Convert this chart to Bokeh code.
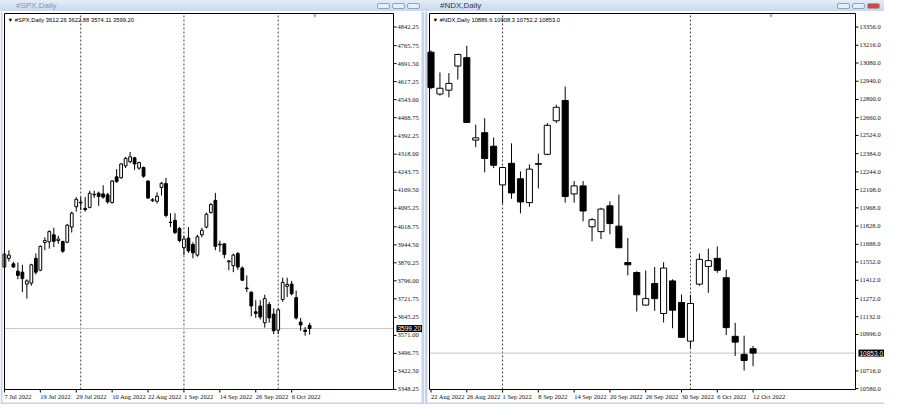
from bokeh.plotting import figure
from bokeh.layouts import row, column
from bokeh.models import (ColumnDataSource, Label, LabelSet, Div, Range1d, BoxAnnotation)
from bokeh.embed import file_html
from bokeh.resources import INLINE

# ---------------- data: #SPX daily ----------------
spx_dates = [
    "2022-07-07", "2022-07-08", "2022-07-11", "2022-07-12", "2022-07-13", "2022-07-14", "2022-07-15",
    "2022-07-18", "2022-07-19", "2022-07-20", "2022-07-21", "2022-07-22", "2022-07-25", "2022-07-26",
    "2022-07-27", "2022-07-28", "2022-07-29", "2022-08-01", "2022-08-02", "2022-08-03", "2022-08-04",
    "2022-08-05", "2022-08-08", "2022-08-09", "2022-08-10", "2022-08-11", "2022-08-12", "2022-08-15",
    "2022-08-16", "2022-08-17", "2022-08-18", "2022-08-19", "2022-08-22", "2022-08-23", "2022-08-24",
    "2022-08-25", "2022-08-26", "2022-08-29", "2022-08-30", "2022-08-31", "2022-09-01", "2022-09-02",
    "2022-09-06", "2022-09-07", "2022-09-08", "2022-09-09", "2022-09-12", "2022-09-13", "2022-09-14",
    "2022-09-15", "2022-09-16", "2022-09-19", "2022-09-20", "2022-09-21", "2022-09-22", "2022-09-23",
    "2022-09-26", "2022-09-27", "2022-09-28", "2022-09-29", "2022-09-30", "2022-10-03", "2022-10-04",
    "2022-10-05", "2022-10-06", "2022-10-07", "2022-10-10", "2022-10-11", "2022-10-12",
]
spx_open = [
    3852.9, 3888.7, 3866.2, 3835.6, 3831.7, 3782.5, 3786.5, 3888.7, 3839.6, 3953.8,
    3956.5, 3985.7, 3961.8, 3957.8, 3955.2, 4017.6, 4101.2, 4117.2, 4094.6, 4098.6,
    4150.4, 4157.0, 4154.4, 4150.4, 4118.5, 4224.7, 4220.8, 4269.9, 4287.2, 4303.1,
    4260.6, 4263.2, 4207.5, 4126.5, 4123.8, 4180.9, 4196.9, 4037.5, 4045.5, 4012.3,
    3932.6, 3972.4, 3945.9, 3902.0, 3985.7, 4017.6, 4077.3, 4127.8, 3947.2, 3948.5,
    3874.2, 3858.2, 3908.7, 3848.9, 3766.6, 3749.3, 3668.3, 3692.2, 3623.2, 3698.9,
    3659.0, 3592.6, 3718.8, 3773.2, 3782.5, 3726.7, 3625.8, 3592.6, 3612.26,
]
spx_high = [
    3915.3, 3921.9, 3874.2, 3871.5, 3862.2, 3802.4, 3866.2, 3908.7, 3941.9, 3975.1,
    4004.3, 4014.9, 3981.7, 3961.8, 4030.9, 4081.3, 4141.1, 4141.1, 4141.1, 4167.6,
    4167.6, 4163.7, 4190.2, 4158.3, 4211.5, 4256.6, 4280.5, 4307.1, 4327.0, 4307.1,
    4287.2, 4267.2, 4210.1, 4137.1, 4160.9, 4203.5, 4220.8, 4074.7, 4074.7, 4017.6,
    3981.7, 4017.6, 3955.2, 3985.7, 4014.9, 4077.3, 4117.2, 4158.3, 3961.8, 3951.2,
    3882.1, 3908.7, 3915.3, 3855.6, 3818.4, 3751.9, 3716.1, 3716.1, 3738.7, 3709.5,
    3682.9, 3682.9, 3809.1, 3809.1, 3795.8, 3755.9, 3643.1, 3605.9, 3622.88,
]
spx_low = [
    3848.9, 3875.5, 3848.9, 3802.4, 3749.3, 3722.8, 3775.9, 3822.4, 3835.6, 3921.9,
    3928.6, 3935.2, 3948.5, 3911.3, 3951.2, 3995.0, 4081.3, 4087.9, 4081.3, 4094.6,
    4137.1, 4105.2, 4134.4, 4114.5, 4114.5, 4200.8, 4216.8, 4260.6, 4280.5, 4253.9,
    4253.9, 4220.8, 4134.4, 4121.2, 4114.5, 4147.7, 4057.4, 4017.6, 3988.4, 3955.2,
    3902.0, 3911.3, 3888.7, 3895.4, 3975.1, 4012.3, 4073.4, 3921.9, 3915.3, 3888.7,
    3839.6, 3831.7, 3842.3, 3795.8, 3749.3, 3649.7, 3643.1, 3636.4, 3603.2, 3623.2,
    3576.7, 3576.7, 3709.5, 3729.4, 3736.0, 3636.4, 3589.9, 3570.0, 3574.11,
]
spx_close = [
    3906.0, 3902.0, 3852.9, 3818.4, 3805.1, 3795.8, 3862.2, 3831.7, 3937.9, 3961.8,
    3999.0, 3959.1, 3968.4, 3918.0, 4025.5, 4074.7, 4131.8, 4119.8, 4089.3, 4157.0,
    4153.0, 4143.7, 4141.1, 4121.2, 4207.5, 4204.8, 4277.9, 4300.4, 4307.1, 4277.9,
    4283.2, 4227.4, 4137.1, 4130.5, 4145.0, 4198.2, 4065.4, 4036.2, 3995.0, 3961.8,
    3968.4, 3919.3, 3911.3, 3977.7, 4004.3, 4070.7, 4110.5, 3937.9, 3944.5, 3904.7,
    3878.1, 3902.0, 3852.9, 3798.5, 3763.9, 3692.2, 3661.7, 3647.1, 3722.8, 3643.1,
    3589.9, 3676.3, 3789.2, 3781.2, 3742.6, 3643.1, 3613.8, 3587.3, 3599.20,
]
spx_tick_dates = ["2022-07-07", "2022-07-19", "2022-07-29", "2022-08-10", "2022-08-22",
                  "2022-09-01", "2022-09-14", "2022-09-26", "2022-10-06"]
spx_tick_labels = ["7 Jul 2022", "19 Jul 2022", "29 Jul 2022", "10 Aug 2022", "22 Aug 2022",
                   "1 Sep 2022", "14 Sep 2022", "26 Sep 2022", "6 Oct 2022"]
spx_price_ticks = [4842.25, 4765.75, 4691.50, 4617.25, 4543.00, 4468.75, 4392.25, 4318.00,
                   4243.75, 4169.50, 4095.25, 4018.75, 3944.50, 3870.25, 3796.00, 3721.75,
                   3645.25, 3571.00, 3496.75, 3422.50, 3348.25]

# ---------------- data: #NDX daily ----------------
ndx_dates = [
    "2022-08-22", "2022-08-23", "2022-08-24", "2022-08-25", "2022-08-26", "2022-08-29", "2022-08-30",
    "2022-08-31", "2022-09-01", "2022-09-02", "2022-09-06", "2022-09-07", "2022-09-08", "2022-09-09",
    "2022-09-12", "2022-09-13", "2022-09-14", "2022-09-15", "2022-09-16", "2022-09-19", "2022-09-20",
    "2022-09-21", "2022-09-22", "2022-09-23", "2022-09-26", "2022-09-27", "2022-09-28", "2022-09-29",
    "2022-09-30", "2022-10-03", "2022-10-04", "2022-10-05", "2022-10-06", "2022-10-07", "2022-10-10",
    "2022-10-11", "2022-10-12",
]
ndx_open = [
    13163.1, 12841.5, 12871.2, 13056.7, 13121.0, 12487.9, 12544.8, 12440.9, 12144.1, 12309.8,
    12191.1, 12008.1, 12302.4, 12379.0, 12636.3, 12792.1, 12074.8, 12136.6, 11822.5, 11785.4,
    11983.3, 11827.5, 11548.0, 11471.4, 11221.5, 11387.2, 11157.2, 11407.0, 11241.3, 10944.5,
    11382.3, 11518.3, 11580.1, 11431.7, 10981.6, 10843.1, 10886.6,
]
ndx_high = [
    13175.4, 13007.3, 13002.3, 13150.7, 13212.5, 12606.6, 12656.1, 12507.7, 12285.1, 12463.2,
    12247.9, 12302.4, 12384.0, 12618.9, 12759.9, 12898.5, 12173.7, 12173.7, 11889.3, 11968.5,
    12017.9, 12069.9, 11736.0, 11481.2, 11486.2, 11513.4, 11550.5, 11419.4, 11303.1, 11300.7,
    11617.2, 11654.3, 11671.7, 11493.6, 11085.5, 10986.6, 10908.3,
]
ndx_low = [
    12878.6, 12829.2, 12816.8, 12952.9, 12618.9, 12433.5, 12240.5, 12272.7, 12000.6, 12037.7,
    11926.4, 11976.0, 12116.9, 12371.6, 12618.9, 12008.1, 12008.1, 11864.6, 11711.2, 11728.6,
    11765.7, 11659.3, 11449.1, 11172.1, 11219.1, 11177.0, 11088.0, 11043.5, 10971.7, 10892.6,
    11369.9, 11315.5, 11468.9, 10991.6, 10830.7, 10719.4, 10752.2,
]
ndx_close = [
    12891.0, 12886.1, 12923.2, 13145.8, 12623.9, 12505.2, 12347.3, 12295.0, 12277.6, 12082.3,
    12013.0, 12265.3, 12307.3, 12601.6, 12740.1, 12055.0, 12136.6, 11943.7, 11876.9, 11958.6,
    11847.3, 11661.8, 11530.7, 11300.7, 11271.0, 11271.0, 11506.0, 11182.0, 10974.2, 11233.9,
    11572.7, 11562.8, 11488.6, 11048.5, 10937.1, 10796.1, 10853.0,
]
ndx_tick_dates = ["2022-08-22", "2022-08-26", "2022-09-01", "2022-09-08", "2022-09-14",
                  "2022-09-20", "2022-09-26", "2022-09-30", "2022-10-06", "2022-10-12"]
ndx_tick_labels = ["22 Aug 2022", "26 Aug 2022", "1 Sep 2022", "8 Sep 2022", "14 Sep 2022",
                   "20 Sep 2022", "26 Sep 2022", "30 Sep 2022", "6 Oct 2022", "12 Oct 2022"]
ndx_price_ticks = [13356.0, 13216.0, 13080.0, 12940.0, 12800.0, 12660.0, 12524.0, 12384.0,
                   12244.0, 12108.0, 11968.0, 11828.0, 11688.0, 11552.0, 11412.0, 11272.0,
                   11132.0, 10996.0, 10716.0, 10580.0]

FONT = "Liberation Sans"
TITLE_H = 11
FIG_H = 393
FS = "6.5px"
TXT = "#111111"
FRAME = "#c6d4e6"


def title_bar(text, width, active):
    btn = ("display:inline-block;width:13px;height:6px;margin-left:2px;"
           "border:1px solid #8fa3bd;border-radius:2px;background:#e6edf6;")
    close_bg = "#cf4b3f" if active else "#e6edf6"
    color = "#2a3b52" if active else "#8496ae"
    html = (f'<div style="display:flex;justify-content:space-between;align-items:center;'
            f'width:{width}px;height:{TITLE_H}px;color:{color}">'
            f'<span style="margin-left:16px">{text}</span>'
            f'<span style="display:flex;margin-right:4px">'
            f'<span style="{btn}"></span><span style="{btn}"></span>'
            f'<span style="{btn}background:{close_bg};"></span></span></div>')
    return Div(text=html, width=width, height=TITLE_H, margin=0,
               styles={"background": "linear-gradient(#e4edf8, #c9d8ec)",
                       "font-size": "8px", "font-family": FONT,
                       "line-height": f"{TITLE_H}px", "overflow": "hidden",
                       "white-space": "nowrap"})


def candle_chart(name, dates, o, h, l, c, tick_dates, tick_labels, price_ticks, dec,
                 xin, yin, bar_w, width, box, shift_px, edges):
    box_l, box_r, box_t, box_b = box
    sx = (box_r - box_l) / (xin[1] - xin[0])
    sy = (box_b - box_t) / (yin[1] - yin[0])
    x0, x1 = xin[0] - box_l / sx, xin[1] + (width - box_r) / sx
    y0, y1 = yin[0] - (FIG_H - box_b) / sy, yin[1] + box_t / sy

    n = len(dates)
    src = ColumnDataSource(dict(
        x=list(range(n)), o=o, h=h, l=l, c=c,
        top=[max(a, b) for a, b in zip(o, c)],
        bot=[min(a, b) for a, b in zip(o, c)],
        fill=["white" if cc >= oo else "black" for oo, cc in zip(o, c)],
    ))
    p = figure(width=width, height=FIG_H, x_range=Range1d(x0, x1), y_range=Range1d(y0, y1),
               x_axis_type=None, y_axis_type=None, min_border=0,
               output_backend="svg", toolbar_location=None)
    p.grid.visible = False
    p.outline_line_color = None
    p.background_fill_color = "white"
    p.border_fill_color = "white"

    # window frame edges (left px, right px, bottom px)
    el, er, eb = edges
    if el:
        p.add_layout(BoxAnnotation(left=x0, right=x0 + el / sx, bottom=y0, top=y1,
                                   fill_color=FRAME, fill_alpha=1, line_alpha=0, level="underlay"))
    if er:
        p.add_layout(BoxAnnotation(left=x1 - er / sx, right=x1, bottom=y0, top=y1,
                                   fill_color=FRAME, fill_alpha=1, line_alpha=0, level="underlay"))
    p.add_layout(BoxAnnotation(left=x0, right=x1, bottom=y0, top=y0 + eb / sy,
                               fill_color=FRAME, fill_alpha=1, line_alpha=0, level="underlay"))

    # month separators (dotted) inside the chart box
    seps = [k for k in range(1, n) if dates[k][5:7] != dates[k - 1][5:7]]
    p.segment(x0=seps, x1=seps, y0=[yin[0]] * len(seps), y1=[yin[1]] * len(seps),
              line_color="#404040", line_dash="2 2", line_width=1)
    # current price line
    p.segment(x0=[xin[0]], x1=[xin[1]], y0=[c[-1]], y1=[c[-1]],
              line_color="#c4c4c4", line_width=1)

    # candles
    p.segment(x0="x", y0="l", x1="x", y1="h", source=src, line_color="black", line_width=1)
    p.vbar(x="x", top="top", bottom="bot", width=bar_w, source=src,
           fill_color="fill", line_color="black", line_width=1)

    # chart box
    p.add_layout(BoxAnnotation(left=xin[0], right=xin[1], bottom=yin[0], top=yin[1],
                               fill_alpha=0, line_color="black", line_width=1,
                               line_alpha=1))

    # price scale (right)
    pt = [t for t in price_ticks if yin[0] - 1e-9 <= t <= yin[1]]
    p.segment(x0=[xin[1]] * len(pt), x1=[xin[1] + 3 / sx] * len(pt), y0=pt, y1=pt,
              line_color="black", line_width=1)
    fmt = f"{{:.{dec}f}}"
    ysrc = ColumnDataSource(dict(x=[xin[1]] * len(pt), y=pt, t=[fmt.format(v) for v in pt]))
    p.add_layout(LabelSet(x="x", y="y", text="t", source=ysrc, x_offset=4,
                          text_baseline="middle", text_align="left", text_font_size=FS,
                          text_font=FONT, text_color=TXT))

    # time scale (bottom)
    ti = [dates.index(d) for d in tick_dates]
    p.segment(x0=ti, x1=ti, y0=[yin[0]] * len(ti), y1=[yin[0] - 3 / sy] * len(ti),
              line_color="black", line_width=1)
    xsrc = ColumnDataSource(dict(x=ti, y=[yin[0]] * len(ti), t=tick_labels))
    p.add_layout(LabelSet(x="x", y="y", text="t", source=xsrc, x_offset=0, y_offset=-3,
                          text_baseline="top", text_align="left", text_font_size=FS,
                          text_font=FONT, text_color=TXT))

    # header and current price tag
    header = (f"\u25BC {name} " + " ".join(fmt.format(v) for v in (o[-1], h[-1], l[-1], c[-1])))
    p.add_layout(Label(x=xin[0], y=yin[1], x_offset=3, y_offset=-3, text=header,
                       text_baseline="top", text_align="left", text_font_size="5.8px",
                       text_font=FONT, text_color="black"))
    p.add_layout(Label(x=xin[1], y=c[-1], x_offset=3, text=fmt.format(c[-1]),
                       text_baseline="middle", text_align="left", text_font_size=FS,
                       text_font=FONT, text_color="white", background_fill_color="black",
                       padding=1))
    # chart-shift marker
    p.add_layout(Label(x=n - 1, y=yin[1], x_offset=shift_px, y_offset=1, text="\u25BC",
                       text_baseline="top", text_align="center", text_font_size="6px",
                       text_color="#a8a8a8"))
    return p


p1 = candle_chart("#SPX,Daily", spx_dates, spx_open, spx_high, spx_low, spx_close,
                  spx_tick_dates, spx_tick_labels, spx_price_ticks, 2,
                  (0.016, 86.69), (3348.0, 4898.0), 0.62, 424, (4, 393, 2, 378), 5,
                  (2, 3, 2))
p2 = candle_chart("#NDX,Daily", ndx_dates, ndx_open, ndx_high, ndx_low, ndx_close,
                  ndx_tick_dates, ndx_tick_labels, ndx_price_ticks, 1,
                  (-0.168, 47.45), (10573.5, 13459.9), 0.68, 460, (5, 431, 2, 378), 18,
                  (3, 0, 2))

layout = row(column(title_bar("#SPX,Daily", 424, False), p1),
             column(title_bar("#NDX,Daily", 460, True), p2))

with open("out.html", "w") as f:
    f.write(file_html(layout, INLINE))
